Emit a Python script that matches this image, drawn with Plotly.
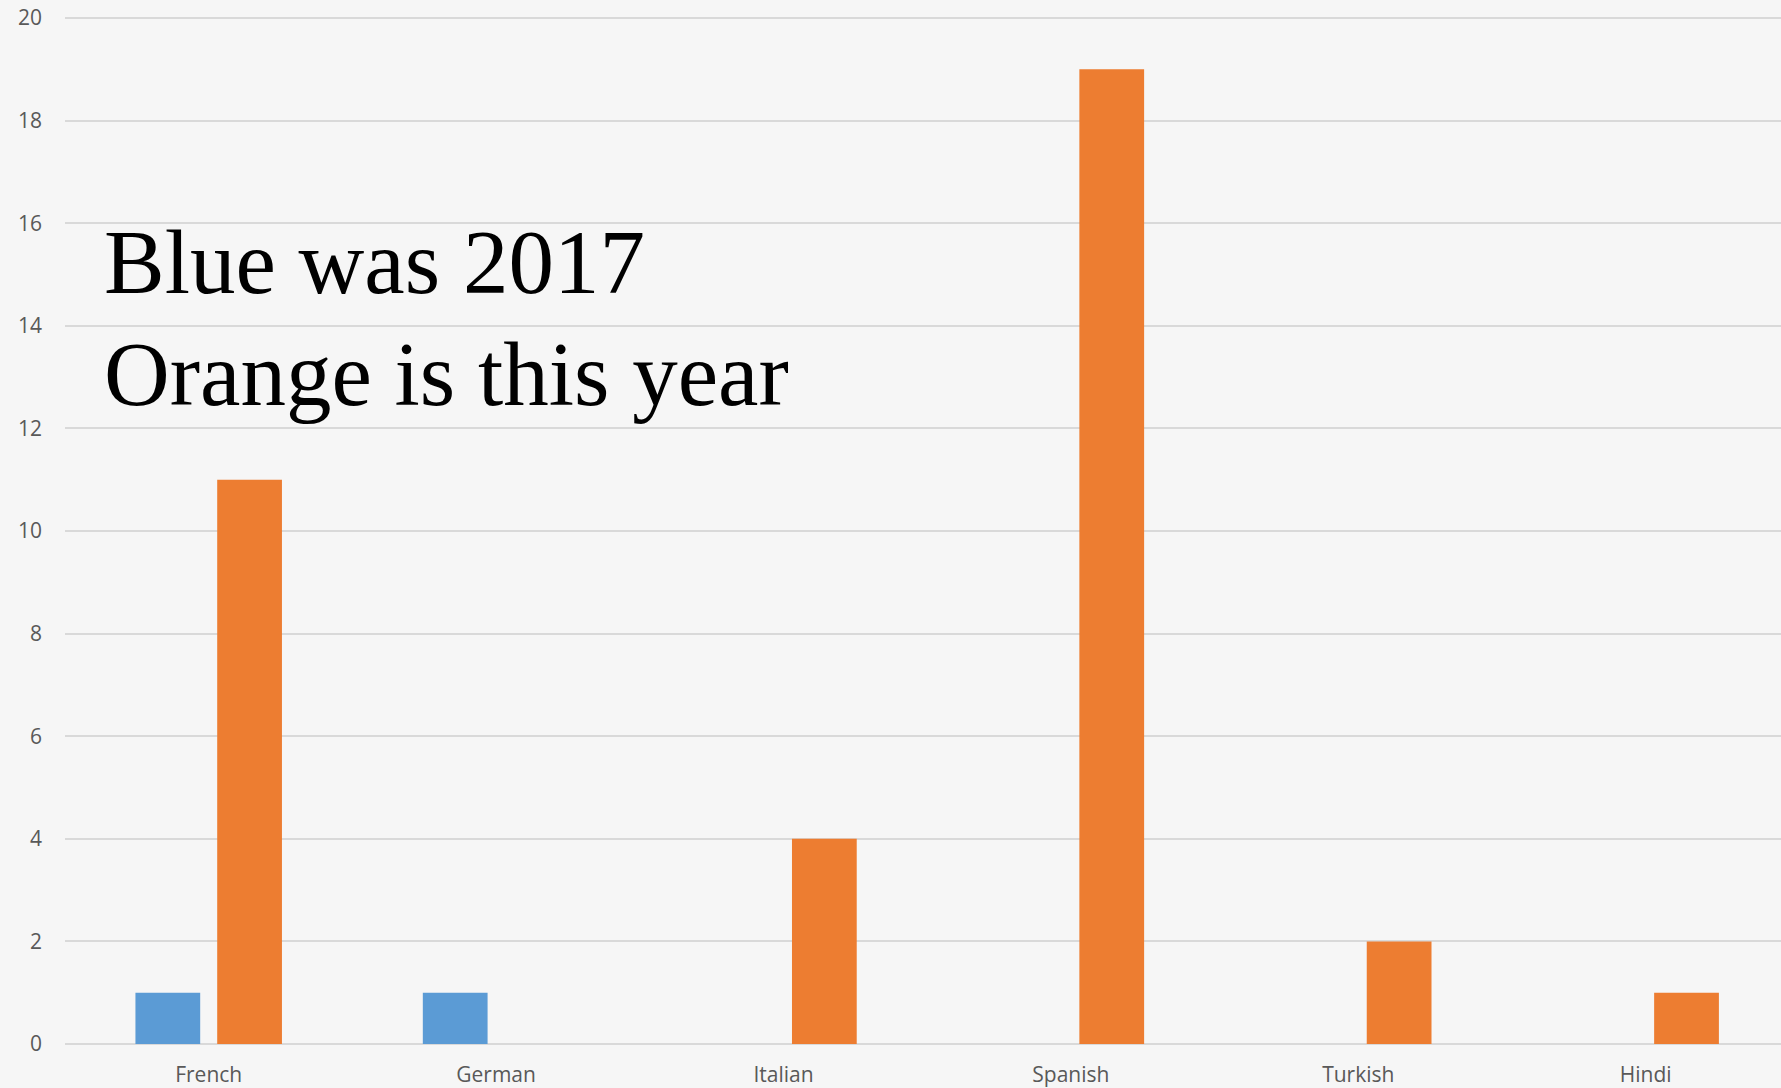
import plotly.graph_objects as go

categories = ["French", "German", "Italian", "Spanish", "Turkish", "Hindi"]
series_2017 = [1, 1, 0, 0, 0, 0]
series_this_year = [11, 0, 4, 19, 2, 1]
y_ticks = [0, 2, 4, 6, 8, 10, 12, 14, 16, 18, 20]

BLUE = "#5B9BD5"
ORANGE = "#ED7D31"
BG = "#F6F6F6"

fig = go.Figure()
fig.add_trace(go.Bar(x=categories, y=series_2017, name="2017",
                     marker=dict(color=BLUE, line=dict(width=0))))
fig.add_trace(go.Bar(x=categories, y=series_this_year, name="This year",
                     marker=dict(color=ORANGE, line=dict(width=0))))

fig.update_layout(
    width=1781, height=1088,
    margin=dict(l=65, r=0, t=17, b=40),
    paper_bgcolor=BG, plot_bgcolor=BG,
    barmode="group", bargap=0.431, bargroupgap=0.208,
    showlegend=False,
    font=dict(family="Open Sans", size=21, color="#595959"),
)
fig.update_xaxes(
    range=[-0.5, 5.471], showgrid=False, showline=False, zeroline=False,
    ticks="", tickfont=dict(family="Open Sans", size=21, color="#595959"),
    ticklabelstandoff=16,
)
fig.update_yaxes(
    range=[0, 20.02], tickvals=y_ticks, showgrid=True, gridcolor="#D9D9D9",
    gridwidth=1.5, zeroline=True, zerolinecolor="#D9D9D9", zerolinewidth=1.5,
    showline=False, ticks="", ticklabelstandoff=22,
    tickfont=dict(family="Open Sans", size=21, color="#595959"),
)

fig.add_annotation(text="Blue was 2017", xref="paper", yref="y",
                   x=(102 - 65) / 1716, y=14.22, xanchor="left", yanchor="bottom",
                   showarrow=False,
                   font=dict(family="Liberation Serif", size=91, color="#000000"))
fig.add_annotation(text="Orange is this year", xref="paper", yref="y",
                   x=(102 - 65) / 1716, y=12.03, xanchor="left", yanchor="bottom",
                   showarrow=False,
                   font=dict(family="Liberation Serif", size=91, color="#000000"))

fig.write_html("out.html", config={"displayModeBar": False},
               post_script="document.body.style.margin='0px';")
